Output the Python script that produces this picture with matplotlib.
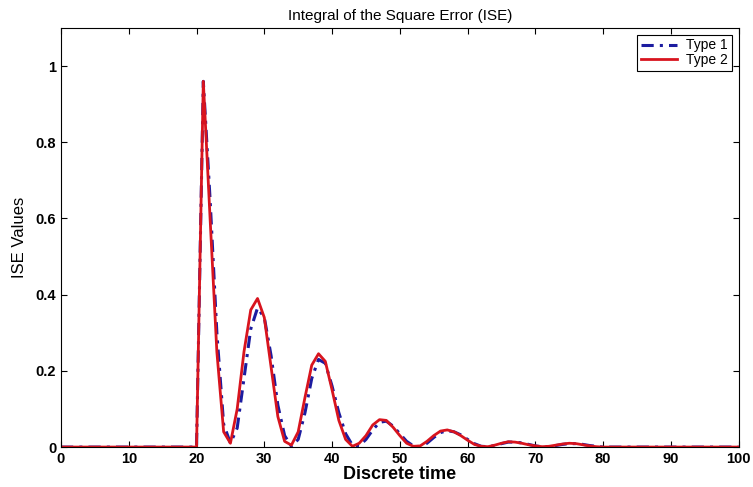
import numpy as np
import matplotlib
matplotlib.use('Agg')
import matplotlib.pyplot as plt

plt.rcParams['font.family'] = ['Liberation Sans', 'DejaVu Sans']

# ISE values from t=21 to t=80 (zero before and after)
t = np.arange(0, 101)
type1_mid = [0.96, 0.65, 0.30, 0.06, 0.01, 0.05, 0.18, 0.31, 0.365, 0.34,
             0.24, 0.11, 0.03, 0.002, 0.02, 0.09, 0.18, 0.23, 0.22, 0.16,
             0.09, 0.035, 0.005, 0.003, 0.02, 0.045, 0.065, 0.068, 0.055, 0.035,
             0.015, 0.003, 0.001, 0.01, 0.025, 0.038, 0.043, 0.04, 0.032, 0.02,
             0.009, 0.002, 0.001, 0.004, 0.009, 0.013, 0.013, 0.011, 0.007, 0.003,
             0.001, 0.001, 0.004, 0.007, 0.009, 0.009, 0.007, 0.004, 0.002, 0.0]
type2_mid = [0.96, 0.60, 0.25, 0.04, 0.01, 0.10, 0.25, 0.36, 0.39, 0.34,
             0.21, 0.08, 0.015, 0.005, 0.04, 0.13, 0.215, 0.245, 0.225, 0.15,
             0.07, 0.02, 0.002, 0.01, 0.03, 0.058, 0.072, 0.07, 0.052, 0.03,
             0.01, 0.002, 0.003, 0.015, 0.03, 0.042, 0.045, 0.04, 0.03, 0.018,
             0.007, 0.002, 0.001, 0.005, 0.01, 0.014, 0.013, 0.01, 0.006, 0.003,
             0.001, 0.002, 0.005, 0.008, 0.01, 0.009, 0.006, 0.003, 0.001, 0.0]
type1 = np.zeros(len(t))
type2 = np.zeros(len(t))
type1[21:21 + len(type1_mid)] = type1_mid
type2[21:21 + len(type2_mid)] = type2_mid

fig = plt.figure(figsize=(7.53, 4.87), dpi=100)
ax = fig.add_axes([0.081, 0.082, 0.9, 0.8605])

ax.plot(t, type1, color='#1c1ca0', linestyle=(0, (4, 2, 1, 2)), linewidth=2.2, label='Type 1')
ax.plot(t, type2, color='#d8141e', linestyle='-', linewidth=2, label='Type 2')

ax.set_xlim(0, 100)
ax.set_ylim(0, 1.1)
ax.set_xticks(np.arange(0, 101, 10))
ax.set_yticks([0, 0.2, 0.4, 0.6, 0.8, 1])
ax.set_yticklabels(['0', '0.2', '0.4', '0.6', '0.8', '1'])
ax.tick_params(direction='in', top=True, right=True, labelsize=10.5, length=4)
for lbl in ax.get_xticklabels() + ax.get_yticklabels():
    lbl.set_fontweight('bold')

ax.set_title('Integral of the Square Error (ISE)', fontsize=11, pad=6)
ax.set_xlabel('Discrete time', fontsize=13, fontweight='bold', labelpad=0)
ax.set_ylabel('ISE Values', fontsize=12, labelpad=6)

leg = ax.legend(loc='upper right', fontsize=10, fancybox=False, edgecolor='black',
                framealpha=1, handlelength=2.6, borderaxespad=0.5,
                borderpad=0.25, labelspacing=0.05, handletextpad=0.7)
leg.get_frame().set_linewidth(0.8)

fig.savefig('out.png', dpi=100)
